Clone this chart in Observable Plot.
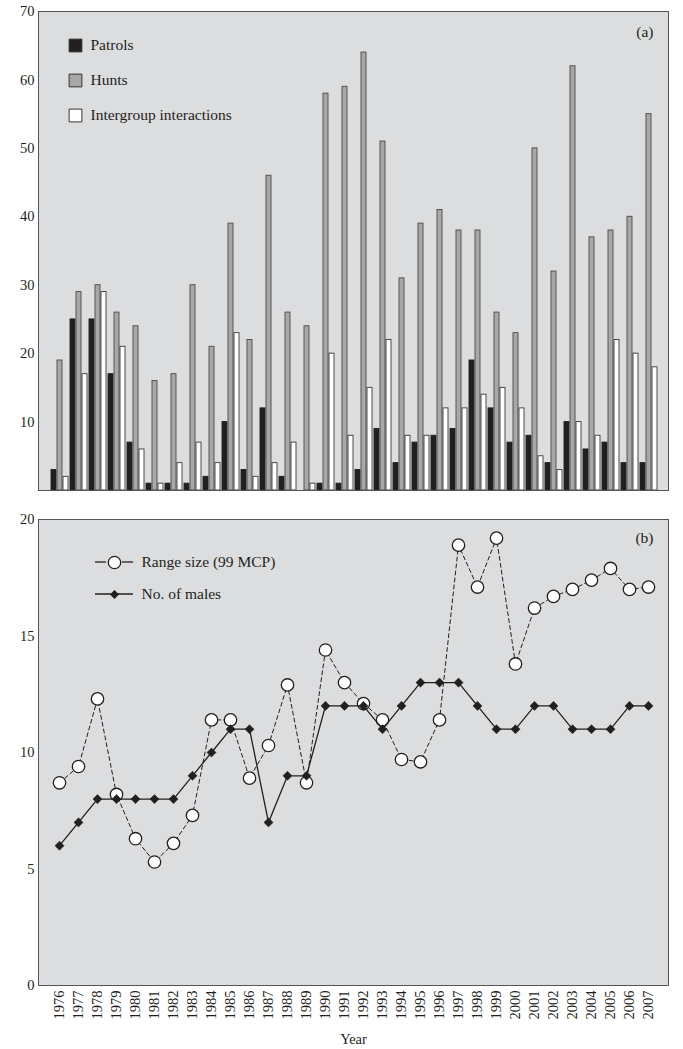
<!DOCTYPE html>
<html>
<head>
<meta charset="utf-8">
<script src="https://cdn.jsdelivr.net/npm/d3@7"></script>
<script src="https://cdn.jsdelivr.net/npm/@observablehq/plot@0.6"></script>
<style>
  body { margin: 0; background: #fff; }
  #chart { width: 683px; font-family: "Liberation Serif", "DejaVu Serif", serif; }
  #chart svg { display: block; }
</style>
</head>
<body>
<div id="chart"></div>
<script>
// ---- data ----
const years = [1976, 1977, 1978, 1979, 1980, 1981, 1982, 1983, 1984, 1985, 1986, 1987, 1988, 1989, 1990, 1991,
               1992, 1993, 1994, 1995, 1996, 1997, 1998, 1999, 2000, 2001, 2002, 2003, 2004, 2005, 2006, 2007];
const patrols    = [3, 25, 25, 17, 7, 1, 1, 1, 2, 10, 3, 12, 2, 0, 1, 1, 3, 9, 4, 7, 8, 9, 19, 12, 7, 8, 4, 10, 6, 7, 4, 4];
const hunts      = [19, 29, 30, 26, 24, 16, 17, 30, 21, 39, 22, 46, 26, 24, 58, 59, 64, 51, 31, 39, 41, 38, 38, 26, 23, 50, 32, 62, 37, 38, 40, 55];
const intergroup = [2, 17, 29, 21, 6, 1, 4, 7, 4, 23, 2, 4, 7, 1, 20, 8, 15, 22, 8, 8, 12, 12, 14, 15, 12, 5, 3, 10, 8, 22, 20, 18];
const rangeSize  = [8.7, 9.4, 12.3, 8.2, 6.3, 5.3, 6.1, 7.3, 11.4, 11.4, 8.9, 10.3, 12.9, 8.7, 14.4, 13.0,
                    12.1, 11.4, 9.7, 9.6, 11.4, 18.9, 17.1, 19.2, 13.8, 16.2, 16.7, 17.0, 17.4, 17.9, 17.0, 17.1];
const males      = [6, 7, 8, 8, 8, 8, 8, 9, 10, 11, 11, 7, 9, 9, 12, 12, 12, 11, 12, 13, 13, 13, 12, 11, 11, 12, 12, 11, 11, 11, 12, 12];
const topTicks = [10, 20, 30, 40, 50, 60, 70];
const bottomTicks = [0, 5, 10, 15, 20];
const barSeries = ["Patrols", "Hunts", "Intergroup interactions"];
const lineSeries = ["Range size (99 MCP)", "No. of males"];

// ---- tables ----
const table = years.map((year, i) => ({
  year, patrols: patrols[i], hunts: hunts[i], intergroup: intergroup[i],
  range: rangeSize[i], males: males[i]
}));

const BG = "#dcdddf";
const INK = "#231f20";
const GREY = "#a8a8a8";
const font = { fontFamily: "'Liberation Serif', 'DejaVu Serif', serif", fontSize: "14.5px", color: INK, background: "transparent", overflow: "visible" };
const LEG = 15.5;

const barInset = 7.0;
const barStyles = [
  { key: "patrols", fill: INK, stroke: INK, dx: -5 },
  { key: "hunts", fill: GREY, stroke: "#4a4a4a", dx: 1 },
  { key: "intergroup", fill: "#ffffff", stroke: "#3a3a3a", dx: 7 }
];

const topLegend = barSeries.flatMap((label, i) => [
  Plot.dot([label], { frameAnchor: "top-left", dx: 37, dy: 34 + i * 35, symbol: "square", r: 7.2,
    fill: barStyles[i].fill, stroke: "#333", strokeWidth: 1 }),
  Plot.text([label], { frameAnchor: "top-left", dx: 52, dy: 34 + i * 35, text: d => d, textAnchor: "start",
    lineAnchor: "middle", fontSize: LEG, fill: INK })
]);

const topChart = Plot.plot({
  width: 683, height: 500,
  marginLeft: 38, marginRight: 15, marginTop: 11, marginBottom: 10,
  style: font,
  x: { type: "band", domain: years, padding: 0, axis: null },
  y: { domain: [0, 70], axis: null },
  marks: [
    Plot.frame({ fill: BG, stroke: "none" }),
    ...barStyles.map(s => Plot.barY(table, {
      x: "year", y: s.key, fill: s.fill, stroke: s.stroke, strokeWidth: 0.9,
      insetLeft: barInset, insetRight: barInset, dx: s.dx
    })),
    Plot.frame({ stroke: "#555", strokeWidth: 1 }),
    Plot.axisY({ ticks: topTicks, tickSize: 0, tickPadding: 4, label: null, fontSize: 14.5 }),
    ...topLegend,
    Plot.text(["(a)"], { frameAnchor: "top-right", dx: -15, dy: 21, text: d => d, textAnchor: "end",
      lineAnchor: "middle", fontSize: LEG, fill: INK })
  ]
});

const bottomChart = Plot.plot({
  width: 683, height: 549,
  marginLeft: 38, marginRight: 15, marginTop: 19, marginBottom: 64,
  style: font,
  x: { type: "point", domain: years, padding: 0.5, axis: null },
  y: { domain: [0, 20], axis: null },
  marks: [
    Plot.frame({ fill: BG, stroke: "none" }),
    Plot.line(table, { x: "year", y: "range", stroke: INK, strokeWidth: 1, strokeDasharray: "4,3" }),
    Plot.dot(table, { x: "year", y: "range", r: 6.2, fill: "#ffffff", stroke: INK, strokeWidth: 1.3 }),
    Plot.line(table, { x: "year", y: "males", stroke: INK, strokeWidth: 1.3 }),
    Plot.dot(table, { x: "year", y: "males", symbol: "diamond2", r: 4.1, fill: INK, stroke: INK, strokeWidth: 0.5 }),
    Plot.frame({ stroke: "#555", strokeWidth: 1 }),
    Plot.axisY({ ticks: bottomTicks, tickSize: 0, tickPadding: 4, label: null, fontSize: 14.5 }),
    Plot.axisX({ tickSize: 0, tickPadding: 5, tickRotate: -90, fontSize: 14.5, tickFormat: d => String(d),
      label: "Year", labelAnchor: "center", labelOffset: 58 }),
    // legend
    Plot.dot([lineSeries[0]], { frameAnchor: "top-left", dx: 76, dy: 43, r: 6.2, fill: "#fff", stroke: INK, strokeWidth: 1.3 }),
    Plot.text([lineSeries[0]], { frameAnchor: "top-left", dx: 103, dy: 43, text: d => d, textAnchor: "start",
      lineAnchor: "middle", fontSize: LEG, fill: INK }),
    Plot.dot([lineSeries[1]], { frameAnchor: "top-left", dx: 76, dy: 75, symbol: "diamond2", r: 4.1, fill: INK }),
    Plot.text([lineSeries[1]], { frameAnchor: "top-left", dx: 103, dy: 75, text: d => d, textAnchor: "start",
      lineAnchor: "middle", fontSize: LEG, fill: INK }),
    Plot.text(["(b)"], { frameAnchor: "top-right", dx: -15, dy: 19, text: d => d, textAnchor: "end",
      lineAnchor: "middle", fontSize: LEG, fill: INK })
  ]
});

// legend line segments (layout only) inside the bottom chart, behind the legend symbols
const svgB = d3.select(bottomChart);
const legendG = svgB.insert("g", "g[aria-label='dot']");
[[57, 68], [84, 95]].forEach(([a, b]) => {
  legendG.append("line").attr("x1", 38 + a).attr("x2", 38 + b).attr("y1", 19 + 43).attr("y2", 19 + 43)
    .attr("stroke", INK).attr("stroke-width", 1.3);
});
legendG.append("line").attr("x1", 38 + 57).attr("x2", 38 + 95).attr("y1", 19 + 75).attr("y2", 19 + 75)
  .attr("stroke", INK).attr("stroke-width", 1.3);

document.getElementById("chart").append(topChart, bottomChart);
</script>
</body>
</html>
